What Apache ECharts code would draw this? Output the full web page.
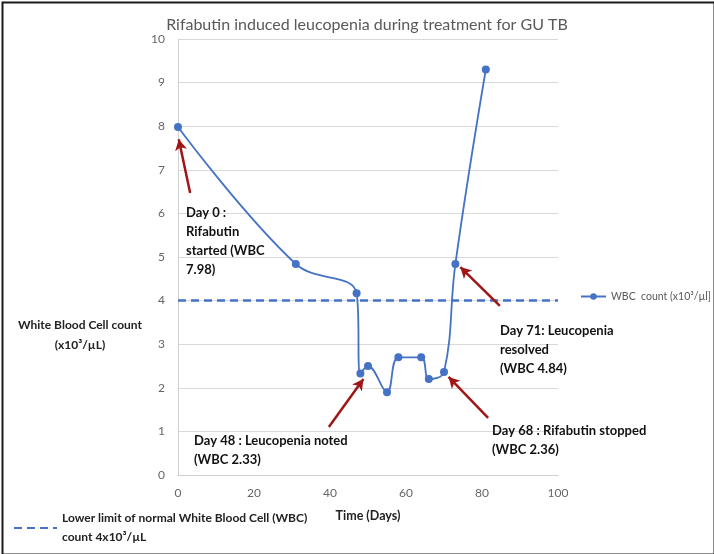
<!DOCTYPE html>
<html><head><meta charset="utf-8">
<script src="https://cdn.jsdelivr.net/npm/echarts@6/dist/echarts.min.js"></script>
<style>html,body{margin:0;padding:0;background:#fff}#c{width:714px;height:554px}</style>
</head><body><div id="c"></div>
<script>
const days = [0, 31, 47, 48, 50, 55, 58, 64, 66, 70, 73, 81];
const wbc = [7.98, 4.84, 4.17, 2.33, 2.5, 1.9, 2.7, 2.7, 2.2, 2.36, 4.84, 9.3];
const limitDays = [0, 100];
const limitValue = [4, 4];
const xTicks = {min: 0, max: 100, interval: 20};
const yTicks = {min: 0, max: 10, interval: 1};
// annotation arrows: [tailX, tailY, headX, headY] in data units
const arrows = [
  [3.2, 6.47, 0.2, 7.7],
  [39.7, 1.1, 48.8, 2.2],
  [81.6, 1.31, 71.2, 2.25],
  [84.7, 3.88, 74.3, 4.77]
];
const notes = [
  {text: 'Day 0 :\nRifabutin\nstarted (WBC\n7.98)', left: 186, top: 203},
  {text: 'Day 48 : Leucopenia noted\n(WBC 2.33)', left: 194, top: 431},
  {text: 'Day 68 : Rifabutin stopped\n(WBC 2.36)', left: 492, top: 421},
  {text: 'Day 71: Leucopenia\nresolved\n(WBC 4.84)', left: 500, top: 321}
];
const FONT = "Lato,'Liberation Sans',sans-serif";
const blue = '#4472C4';
const red = '#A01616';

const chart = echarts.init(document.getElementById('c'));
chart.setOption({
  animation: false,
  textStyle: {fontFamily: FONT},
  title: {
    text: 'Rifabutin induced leucopenia during treatment for GU TB',
    left: 362, top: 12, textAlign: 'center',
    textStyle: {fontFamily: FONT, fontSize: 16, fontWeight: 'normal', color: '#595959'}
  },
  grid: {left: 178, right: 156, top: 39, bottom: 79},
  legend: [
    {
      data: ['WBC  count (x10³/µl]'],
      left: 575, top: 286, itemWidth: 25, itemHeight: 8, itemGap: 2,
      textStyle: {fontFamily: FONT, fontSize: 10.5, color: '#595959'}
    },
    {
      data: ['Lower limit of normal White Blood Cell (WBC)\ncount 4x10³/µL'],
      left: 8, top: 504, itemWidth: 43, itemHeight: 10, itemGap: 3,
      itemStyle: {color: 'transparent', borderWidth: 0},
      textStyle: {fontFamily: FONT, fontSize: 12, fontWeight: 'bold', color: '#222', lineHeight: 19}
    }
  ],
  xAxis: {
    type: 'value', min: xTicks.min, max: xTicks.max, interval: xTicks.interval,
    name: 'Time (Days)', nameLocation: 'middle', nameGap: 34,
    nameTextStyle: {fontFamily: FONT, fontSize: 12.5, fontWeight: 'bold', color: '#222'},
    axisLine: {show: true, lineStyle: {color: '#d0d0d0', width: 1}},
    axisTick: {show: false},
    splitLine: {show: false},
    axisLabel: {color: '#666', fontSize: 12, margin: 12}
  },
  yAxis: {
    type: 'value', min: yTicks.min, max: yTicks.max, interval: yTicks.interval,
    axisLine: {show: true, lineStyle: {color: '#d0d0d0', width: 1}},
    axisTick: {show: false},
    splitLine: {show: true, lineStyle: {color: '#d9d9d9', width: 1}},
    axisLabel: {color: '#666', fontSize: 12, margin: 13}
  },
  series: [
    {
      name: 'WBC  count (x10³/µl]',
      type: 'line',
      data: days.map((d, i) => [d, wbc[i]]),
      smooth: 0.4,
      symbol: 'circle', symbolSize: 8,
      lineStyle: {color: blue, width: 1.8},
      itemStyle: {color: blue},
      z: 3
    },
    {
      name: 'Lower limit of normal White Blood Cell (WBC)\ncount 4x10³/µL',
      type: 'line',
      data: limitDays.map((d, i) => [d, limitValue[i]]),
      symbol: 'none', showSymbol: false,
      lineStyle: {color: blue, width: 2.5, type: [8, 5]},
      itemStyle: {color: blue},
      z: 2,
      markLine: {
        silent: true,
        symbol: ['none', 'arrow'],
        symbolSize: [9, 11],
        label: {show: false},
        lineStyle: {color: red, width: 2.5, type: 'solid'},
        data: arrows.map(a => [{coord: [a[0], a[1]]}, {coord: [a[2], a[3]]}])
      }
    }
  ],
  graphic: [
    {
      type: 'rect', left: 0, top: 0, silent: true,
      shape: {width: 712, height: 552},
      style: {fill: 'none', stroke: '#1a1a1a', lineWidth: 2},
      position: [1, 1]
    },
    {
      type: 'text', silent: true,
      style: {text: 'White Blood Cell count\n(x10³/µL)', x: 80, y: 315, fill: '#222',
        font: "bold 12px " + FONT, lineHeight: 20, align: 'center', verticalAlign: 'top'}
    }
  ].concat(notes.map(n => ({
    type: 'text', left: n.left, top: n.top, silent: true, z: 10,
    style: {text: n.text, fill: '#111', font: 'bold 13px ' + FONT, lineHeight: 19}
  })))
});
</script></body></html>
